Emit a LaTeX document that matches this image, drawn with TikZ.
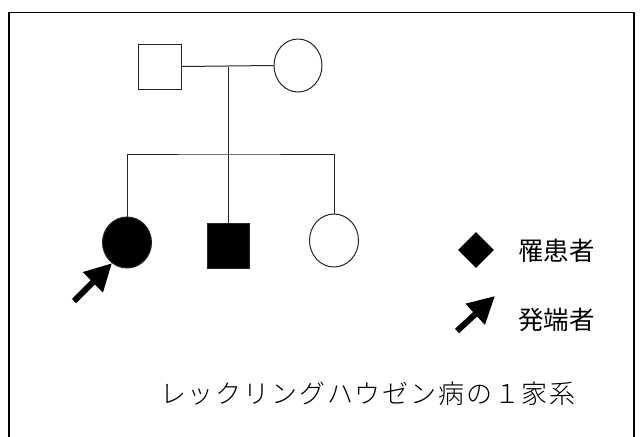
\documentclass[tikz,border=0pt]{standalone}
\usepackage{fontspec}
\usetikzlibrary{shapes.geometric,arrows.meta}
\newfontfamily\jpsans{Noto Sans CJK JP}
\newfontfamily\jptitle[LetterSpace=7]{Noto Sans CJK JP Light}
\begin{document}
\begin{tikzpicture}[x=1pt,y=-1pt,
  pline/.style={line width=1pt, draw=black!85},
  male/.style={rectangle, draw=black!85, line width=1pt, minimum width=43pt, minimum height=45pt, inner sep=0pt},
  female/.style={ellipse, draw=black!85, line width=1pt, minimum width=48pt, minimum height=53pt, inner sep=0pt},
  affected/.style={fill=black},
  proarrow/.style={line width=6pt, -{Triangle[length=27pt, width=27pt]}},
  legendtext/.style={font=\jpsans\fontsize{25.5}{28}\selectfont, anchor=west, inner sep=0pt}
]
\useasboundingbox (0,0) rectangle (641,437);
\fill[white] (0,0) rectangle (641,437);
% frame
\draw[line width=1.3pt] (9,437) -- (9,12.5) -- (634,12.5) -- (634,437);
% parents
\node[male] (F) at (159.5,66.5) {};
\node[female] (M) at (298,65.5) {};
\draw[pline] (F.east) -- (M.west);
\coordinate (mar) at (228,66.5);
\coordinate (sib) at (228,154);
\draw[pline] (mar) -- (sib);
% children
\node[female, affected, minimum width=49pt, minimum height=51pt] (D1) at (127,242.5) {};
\node[male, affected, minimum width=42pt] (S) at (228,245.5) {};
\node[female, minimum width=49pt] (D2) at (334,240.5) {};
\draw[pline] (D1.north) |- (sib) -| (D2.north);
\draw[pline] (sib) -- (S.north);
% proband arrow
\coordinate (pa) at (74,301);
\draw[proarrow] (pa) -- (D1.234);
% legend
\node[diamond, fill=black, minimum width=36pt, minimum height=36pt, inner sep=0pt] (LD) at (476,250) {};
\node[legendtext] (L1) at (518,251) {罹患者};
\coordinate (la1) at (457,331);
\coordinate (la2) at (495,296);
\draw[proarrow] (la1) -- (la2);
\node[legendtext] (L2) at (518,319.5) {発端者};
% title
\node[anchor=west, inner sep=0pt, font=\jptitle\fontsize{26}{30}\selectfont] (T) at (160,394) {レックリングハウゼン病の１家系};
\end{tikzpicture}
\end{document}
